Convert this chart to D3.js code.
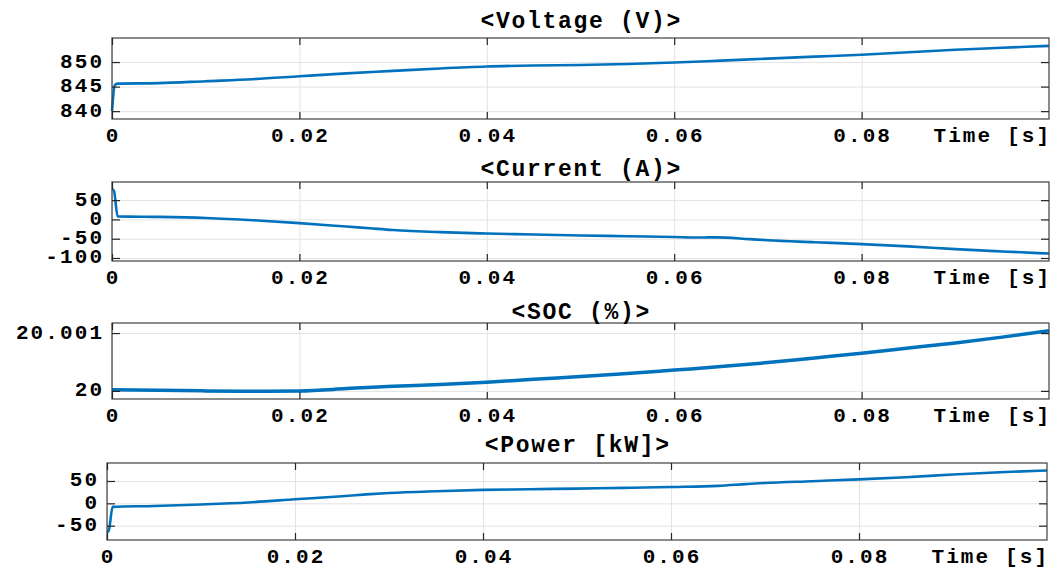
<!DOCTYPE html>
<html><head><meta charset="utf-8">
<script src="https://cdn.jsdelivr.net/npm/d3@7"></script>
<style>
body{margin:0;background:#fff;}
svg{display:block;}
.lbl{font-family:"Liberation Mono","Courier New",monospace;font-weight:bold;fill:#000;}
</style></head>
<body><svg id="c" width="1051" height="568"></svg>
<script>
// ---- data ----
const xTicks = [0, 0.02, 0.04, 0.06, 0.08];
const xTickLabels = ["0", "0.02", "0.04", "0.06", "0.08"];
const xLabel = "Time [s]";

const titles = ["<Voltage (V)>", "<Current (A)>", "<SOC (%)>", "<Power [kW]>"];

const voltageT = [0, 0.0003, 0.0006, 0.005, 0.01, 0.015, 0.02, 0.025, 0.03, 0.035, 0.04, 0.045, 0.05, 0.055, 0.06, 0.065, 0.07, 0.075, 0.08, 0.085, 0.09, 0.095, 0.1];
const voltageV = [840, 845.3, 845.6, 845.7, 846.1, 846.5, 847.1, 847.7, 848.2, 848.7, 849.1, 849.3, 849.4, 849.6, 849.9, 850.3, 850.7, 851.1, 851.5, 852.0, 852.5, 852.9, 853.3];
const voltageTicks = [840, 845, 850];

const currentT = [0, 0.0002, 0.0006, 0.005, 0.01, 0.015, 0.02, 0.025, 0.0275, 0.03, 0.035, 0.04, 0.045, 0.05, 0.055, 0.06, 0.0625, 0.0645, 0.068, 0.07, 0.075, 0.08, 0.085, 0.09, 0.095, 0.1];
const currentV = [78, 75, 8, 6.5, 3.5, -2, -9.5, -18.5, -23, -27.5, -33, -36.5, -39, -41.5, -43.5, -45.5, -46.8, -46.5, -51, -54, -59, -64, -70, -77, -83, -88.5];
const currentTicks = [-100, -50, 0, 50];

const socT = [0, 0.005, 0.01, 0.015, 0.02, 0.025, 0.0272, 0.03, 0.035, 0.04, 0.045, 0.05, 0.055, 0.06, 0.065, 0.07, 0.075, 0.08, 0.085, 0.09, 0.095, 0.1];
const socV = [20.00002, 20.00001, 20.0, 19.999995, 20.0, 20.00004, 20.00006, 20.00008, 20.00011, 20.00015, 20.0002, 20.00025, 20.0003, 20.00036, 20.00042, 20.00049, 20.00057, 20.00065, 20.00074, 20.00083, 20.00093, 20.00104];
const socTicks = [20, 20.001];
const socTickLabels = ["20", "20.001"];

const powerT = [0, 0.0002, 0.0006, 0.005, 0.01, 0.015, 0.02, 0.025, 0.0276, 0.03, 0.035, 0.04, 0.045, 0.05, 0.055, 0.06, 0.065, 0.068, 0.07, 0.075, 0.08, 0.085, 0.09, 0.095, 0.1];
const powerV = [-65, -60, -8, -6, -2.5, 2, 9, 16, 20, 23, 27, 30, 31.5, 33, 34.5, 36.5, 39, 43, 45.5, 49.5, 53.5, 58.5, 64.5, 69.5, 73.5];
const powerTicks = [-50, 0, 50];

// ---- layout ----
const panels = [
  {t: voltageT, v: voltageV, ticks: voltageTicks, labels: voltageTicks.map(String), dom: [838.4, 854.9], box: [112, 1049, 38, 119], lw: 2.6, titleY: 22},
  {t: currentT, v: currentV, ticks: currentTicks, labels: currentTicks.map(String), dom: [-107.8, 97], box: [112, 1049, 182, 261], lw: 2.6, titleY: 170},
  {t: socT, v: socV, ticks: socTicks, labels: socTickLabels, dom: [19.99986, 20.001174], box: [112, 1049, 323, 399], lw: 3.5, titleY: 313},
  {t: powerT, v: powerV, ticks: powerTicks, labels: powerTicks.map(String), dom: [-82, 90.2], box: [107, 1047, 463, 540], lw: 2.6, titleY: 446}
];

const svg = d3.select("#c");
const FS = 21, LS = 2.1, TFS = 23, TLS = 1.7;

panels.forEach((p, i) => {
  const [l, r, t, b] = p.box;
  const x = d3.scaleLinear().domain([0, 0.1]).range([l, r]);
  const y = d3.scaleLinear().domain(p.dom).range([b, t]);
  const g = svg.append("g");

  // grid
  const gx = g.append("g").attr("transform", `translate(0,${b})`)
    .call(d3.axisBottom(x).tickValues(xTicks).tickSize(-(b - t)).tickFormat(""));
  const gy = g.append("g").attr("transform", `translate(${l},0)`)
    .call(d3.axisLeft(y).tickValues(p.ticks).tickSize(-(r - l)).tickFormat(""));
  [gx, gy].forEach(a => { a.select(".domain").remove(); a.selectAll("line").attr("stroke", "#e3e3e3").attr("stroke-width", 1); });

  // line
  const line = d3.line().x((d, k) => x(p.t[k])).y(d => y(d)).curve(d3.curveMonotoneX);
  g.append("path").datum(p.v).attr("d", line).attr("fill", "none")
    .attr("stroke", "#0072BD").attr("stroke-width", p.lw).attr("stroke-linejoin", "round");

  // box
  g.append("rect").attr("x", l).attr("y", t).attr("width", r - l).attr("height", b - t)
    .attr("fill", "none").attr("stroke", "#404040").attr("stroke-width", 1.2);

  // inward ticks
  const tickStyle = a => { a.select(".domain").remove(); a.selectAll("line").attr("stroke", "#262626").attr("stroke-width", 1.2); a.selectAll("text").remove(); };
  g.append("g").attr("transform", `translate(0,${b})`).call(d3.axisBottom(x).tickValues(xTicks).tickSize(-7)).call(tickStyle);
  g.append("g").attr("transform", `translate(0,${t})`).call(d3.axisTop(x).tickValues(xTicks).tickSize(-7)).call(tickStyle);
  g.append("g").attr("transform", `translate(${l},0)`).call(d3.axisLeft(y).tickValues(p.ticks).tickSize(-8)).call(tickStyle);
  g.append("g").attr("transform", `translate(${r},0)`).call(d3.axisRight(y).tickValues(p.ticks).tickSize(-8)).call(tickStyle);

  // x tick labels
  const labY = b + 17;
  xTicks.forEach((v, k) => {
    g.append("text").attr("class", "lbl").attr("x", x(v) + LS / 2).attr("y", labY)
      .attr("text-anchor", "middle").attr("dominant-baseline", "central")
      .style("font-size", FS + "px").style("letter-spacing", LS + "px").text(xTickLabels[k]);
  });
  g.append("text").attr("class", "lbl").attr("x", r + LS).attr("y", labY)
    .attr("text-anchor", "end").attr("dominant-baseline", "central")
    .style("font-size", FS + "px").style("letter-spacing", LS + "px").text(xLabel);

  // y tick labels
  p.ticks.forEach((v, k) => {
    g.append("text").attr("class", "lbl").attr("x", l - 10 + LS).attr("y", y(v))
      .attr("text-anchor", "end").attr("dominant-baseline", "central")
      .style("font-size", FS + "px").style("letter-spacing", LS + "px").text(p.labels[k]);
  });

  // title
  g.append("text").attr("class", "lbl").attr("x", (l + r) / 2 + TLS / 2).attr("y", p.titleY)
    .attr("text-anchor", "middle").attr("dominant-baseline", "central")
    .style("font-size", TFS + "px").style("letter-spacing", TLS + "px").text(titles[i]);
});
</script></body></html>
